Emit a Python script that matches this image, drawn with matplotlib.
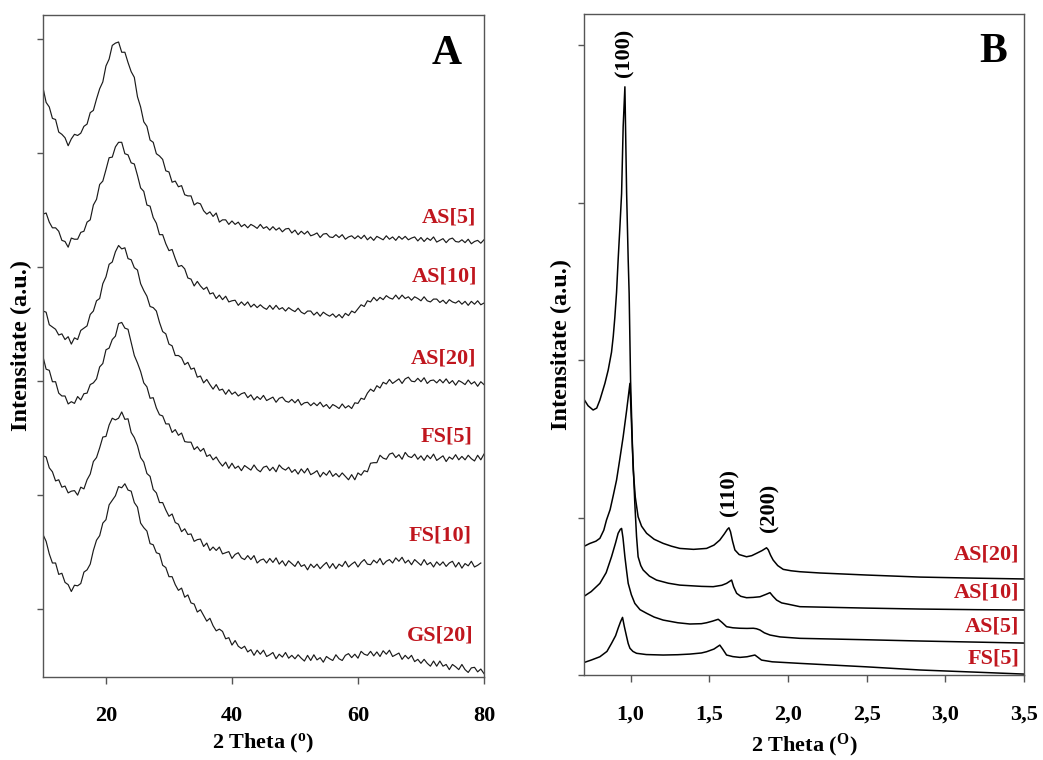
import matplotlib
matplotlib.use("Agg")
import matplotlib.pyplot as plt
import numpy as np

plt.rcParams['font.family'] = ['Liberation Serif', 'DejaVu Serif']
plt.rcParams['font.weight'] = 'bold'
plt.rcParams['mathtext.fontset'] = 'custom'
plt.rcParams['mathtext.rm'] = 'Liberation Serif:bold'
plt.rcParams['mathtext.it'] = 'Liberation Serif:bold'
plt.rcParams['mathtext.bf'] = 'Liberation Serif:bold'

# ---- panel A: wide-angle XRD, scan step 0.5 deg (10 .. 80) ----
as5_a = [
    5.17, 5.04, 5.00, 4.90, 4.89, 4.78, 4.76, 4.73, 4.66, 4.72,
    4.76, 4.75, 4.77, 4.83, 4.85, 4.95, 4.97, 5.07, 5.16, 5.22,
    5.36, 5.42, 5.54, 5.56, 5.57, 5.48, 5.48, 5.39, 5.31, 5.26,
    5.09, 5.00, 4.87, 4.83, 4.71, 4.69, 4.59, 4.57, 4.54, 4.44,
    4.43, 4.34, 4.35, 4.30, 4.31, 4.23, 4.22, 4.22, 4.14, 4.16,
    4.15, 4.09, 4.06, 4.08, 4.04, 4.07, 3.99, 4.01, 4.01, 3.97,
    4.00, 3.97, 3.99, 3.95, 3.97, 3.94, 3.97, 3.955, 3.935, 3.97,
    3.935, 3.95, 3.92, 3.95, 3.92, 3.94, 3.905, 3.93, 3.935, 3.895,
    3.92, 3.88, 3.91, 3.885, 3.91, 3.87, 3.88, 3.895, 3.855, 3.885,
    3.89, 3.86, 3.855, 3.88, 3.855, 3.88, 3.84, 3.86, 3.87, 3.845,
    3.87, 3.845, 3.875, 3.835, 3.86, 3.83, 3.865, 3.85, 3.835, 3.87,
    3.84, 3.86, 3.83, 3.865, 3.84, 3.865, 3.835, 3.85, 3.86, 3.825,
    3.855, 3.82, 3.85, 3.83, 3.86, 3.815, 3.83, 3.845, 3.81, 3.84,
    3.85, 3.82, 3.815, 3.835, 3.81, 3.84, 3.80, 3.82, 3.83, 3.805,
    3.835]
as10_a = [
    4.06, 4.07, 3.99, 3.94, 3.94, 3.91, 3.83, 3.82, 3.77, 3.85,
    3.84, 3.84, 3.90, 3.91, 3.99, 4.01, 4.14, 4.19, 4.32, 4.35,
    4.45, 4.555, 4.56, 4.65, 4.69, 4.69, 4.59, 4.58, 4.51, 4.50,
    4.40, 4.29, 4.26, 4.14, 4.13, 4.03, 3.98, 3.88, 3.88, 3.80,
    3.74, 3.75, 3.67, 3.60, 3.61, 3.58, 3.50, 3.49, 3.43, 3.47,
    3.43, 3.40, 3.42, 3.36, 3.37, 3.32, 3.35, 3.31, 3.34, 3.29,
    3.30, 3.305, 3.26, 3.29, 3.26, 3.29, 3.245, 3.27, 3.24, 3.265,
    3.24, 3.225, 3.26, 3.225, 3.26, 3.225, 3.24, 3.21, 3.24, 3.22,
    3.205, 3.235, 3.20, 3.185, 3.21, 3.21, 3.175, 3.20, 3.165, 3.20,
    3.18, 3.165, 3.185, 3.155, 3.18, 3.15, 3.19, 3.17, 3.21, 3.195,
    3.23, 3.265, 3.25, 3.30, 3.29, 3.33, 3.30, 3.33, 3.31, 3.345,
    3.325, 3.315, 3.35, 3.315, 3.35, 3.32, 3.335, 3.305, 3.335, 3.32,
    3.30, 3.335, 3.30, 3.29, 3.315, 3.315, 3.285, 3.305, 3.275, 3.31,
    3.29, 3.28, 3.30, 3.27, 3.295, 3.26, 3.295, 3.27, 3.30, 3.265,
    3.28]
as20_a = [
    3.21, 3.20, 3.09, 3.07, 3.05, 3.00, 3.01, 2.96, 2.985, 2.92,
    2.975, 2.96, 3.04, 3.06, 3.08, 3.18, 3.21, 3.30, 3.32, 3.45,
    3.51, 3.62, 3.64, 3.73, 3.785, 3.755, 3.765, 3.67, 3.66, 3.59,
    3.57, 3.45, 3.39, 3.34, 3.25, 3.24, 3.21, 3.11, 3.03, 3.01,
    2.92, 2.905, 2.82, 2.82, 2.80, 2.74, 2.76, 2.70, 2.71, 2.63,
    2.64, 2.58, 2.61, 2.565, 2.525, 2.565, 2.515, 2.525, 2.48, 2.52,
    2.48, 2.50, 2.465, 2.485, 2.495, 2.45, 2.475, 2.43, 2.46, 2.435,
    2.47, 2.425, 2.44, 2.455, 2.41, 2.445, 2.455, 2.42, 2.41, 2.435,
    2.405, 2.435, 2.385, 2.405, 2.41, 2.38, 2.405, 2.38, 2.41, 2.37,
    2.39, 2.355, 2.39, 2.375, 2.355, 2.395, 2.36, 2.38, 2.355, 2.405,
    2.40, 2.445, 2.435, 2.49, 2.525, 2.505, 2.555, 2.535, 2.585, 2.57,
    2.61, 2.575, 2.595, 2.615, 2.575, 2.615, 2.63, 2.595, 2.59, 2.62,
    2.59, 2.625, 2.575, 2.60, 2.605, 2.58, 2.61, 2.58, 2.615, 2.575,
    2.60, 2.56, 2.60, 2.585, 2.565, 2.605, 2.57, 2.59, 2.55, 2.59,
    2.565]
fs5_a = [
    2.81, 2.70, 2.69, 2.59, 2.59, 2.49, 2.465, 2.465, 2.395, 2.415,
    2.40, 2.46, 2.43, 2.485, 2.49, 2.565, 2.58, 2.615, 2.72, 2.75,
    2.87, 2.885, 2.96, 2.99, 3.10, 3.11, 3.06, 3.05, 2.935, 2.82,
    2.755, 2.68, 2.58, 2.545, 2.445, 2.45, 2.36, 2.30, 2.29, 2.22,
    2.22, 2.145, 2.17, 2.12, 2.14, 2.065, 2.06, 2.06, 1.995, 2.02,
    1.98, 2.005, 1.935, 1.95, 1.905, 1.93, 1.885, 1.85, 1.885, 1.83,
    1.875, 1.83, 1.85, 1.81, 1.855, 1.835, 1.815, 1.86, 1.82, 1.80,
    1.84, 1.85, 1.81, 1.84, 1.80, 1.86, 1.83, 1.815, 1.84, 1.795,
    1.82, 1.78, 1.825, 1.79, 1.83, 1.775, 1.79, 1.81, 1.755, 1.795,
    1.77, 1.81, 1.76, 1.785, 1.755, 1.79, 1.76, 1.73, 1.775, 1.73,
    1.79, 1.77, 1.81, 1.80, 1.875, 1.88, 1.88, 1.945, 1.92, 1.91,
    1.955, 1.965, 1.925, 1.95, 1.91, 1.97, 1.935, 1.925, 1.955, 1.91,
    1.94, 1.90, 1.945, 1.915, 1.955, 1.90, 1.92, 1.94, 1.89, 1.93,
    1.91, 1.95, 1.905, 1.935, 1.905, 1.945, 1.915, 1.895, 1.945, 1.905,
    1.955]
# FS[10] scan stops at 79.5
fs10_a = [
    1.94, 1.93, 1.835, 1.80, 1.72, 1.73, 1.665, 1.675, 1.615, 1.63,
    1.635, 1.595, 1.665, 1.65, 1.73, 1.78, 1.89, 1.925, 2.01, 2.105,
    2.11, 2.21, 2.27, 2.255, 2.27, 2.325, 2.26, 2.265, 2.145, 2.10,
    2.03, 1.925, 1.885, 1.785, 1.76, 1.645, 1.615, 1.53, 1.53, 1.465,
    1.41, 1.43, 1.355, 1.34, 1.275, 1.30, 1.25, 1.255, 1.19, 1.205,
    1.21, 1.145, 1.175, 1.11, 1.14, 1.11, 1.14, 1.08, 1.09, 1.10,
    1.04, 1.075, 1.09, 1.045, 1.03, 1.065, 1.03, 1.065, 1.00, 1.025,
    1.035, 1.00, 1.04, 1.005, 1.045, 0.99, 1.02, 0.975, 1.02, 0.995,
    0.97, 1.015, 0.97, 0.985, 0.94, 0.99, 0.96, 0.99, 0.95, 0.98,
    1.005, 0.955, 0.995, 0.95, 0.99, 0.97, 1.015, 0.965, 0.99, 1.01,
    0.965, 1.005, 1.03, 0.99, 0.985, 1.025, 1.00, 1.04, 0.985, 1.015,
    1.03, 1.00, 1.045, 1.015, 1.05, 1.00, 1.025, 0.985, 1.03, 1.005,
    0.98, 1.03, 0.985, 1.005, 0.965, 1.01, 0.98, 1.01, 0.97, 1.00,
    1.015, 0.965, 1.005, 0.955, 0.995, 0.975, 1.015, 0.965, 0.98, 1.00]
gs20_a = [
    1.25, 1.19, 1.08, 1.00, 1.00, 0.90, 0.91, 0.83, 0.81, 0.75,
    0.805, 0.80, 0.82, 0.92, 0.94, 0.99, 1.11, 1.20, 1.24, 1.35,
    1.38, 1.51, 1.55, 1.59, 1.67, 1.66, 1.695, 1.64, 1.63, 1.53,
    1.49, 1.35, 1.31, 1.28, 1.17, 1.16, 1.09, 1.08, 0.98, 0.96,
    0.88, 0.88, 0.81, 0.76, 0.78, 0.70, 0.72, 0.65, 0.64, 0.57,
    0.59, 0.54, 0.49, 0.515, 0.45, 0.405, 0.42, 0.40, 0.335, 0.345,
    0.28, 0.32, 0.27, 0.25, 0.27, 0.22, 0.24, 0.19, 0.235, 0.20,
    0.235, 0.18, 0.195, 0.215, 0.16, 0.20, 0.175, 0.215, 0.165, 0.19,
    0.16, 0.195, 0.165, 0.14, 0.19, 0.145, 0.195, 0.15, 0.17, 0.13,
    0.18, 0.16, 0.145, 0.195, 0.16, 0.145, 0.19, 0.205, 0.17, 0.20,
    0.165, 0.225, 0.20, 0.19, 0.225, 0.185, 0.22, 0.18, 0.23, 0.20,
    0.235, 0.18, 0.195, 0.21, 0.155, 0.19, 0.16, 0.19, 0.135, 0.155,
    0.12, 0.155, 0.12, 0.095, 0.14, 0.095, 0.14, 0.095, 0.11, 0.065,
    0.11, 0.09, 0.065, 0.11, 0.065, 0.04, 0.08, 0.085, 0.045, 0.07,
    0.03]

series_a = [as5_a, as10_a, as20_a, fs5_a, fs10_a, gs20_a]
labels_a = ["AS[5]", "AS[10]", "AS[20]", "FS[5]", "FS[10]", "GS[20]"]
label_pos_a = [(78.7, 4.03), (78.9, 3.51), (78.8, 2.79), (78.2, 2.11), (78.0, 1.24), (78.4, 0.36)]

# ---- panel B: low-angle XRD ----
as20_bx = [0.70, 0.74, 0.78, 0.805, 0.83, 0.847, 0.87, 0.89, 0.911, 0.93, 0.953, 0.975, 0.996,
           1.005, 1.017, 1.03, 1.048, 1.07, 1.102, 1.15, 1.207, 1.26, 1.313, 1.40, 1.483, 1.53,
           1.567, 1.595, 1.615, 1.625, 1.635, 1.648, 1.663, 1.69, 1.737, 1.77, 1.801, 1.835,
           1.864, 1.875, 1.89, 1.906, 1.935, 1.970, 2.02, 2.076, 2.203, 2.50, 2.839, 3.20, 3.50]
as20_by = [0.815, 0.835, 0.850, 0.868, 0.92, 0.984, 1.05, 1.14, 1.238, 1.36, 1.513, 1.68, 1.852,
           1.62, 1.302, 1.13, 1.005, 0.945, 0.900, 0.862, 0.836, 0.818, 0.804, 0.798, 0.804, 0.825,
           0.857, 0.895, 0.925, 0.935, 0.91, 0.85, 0.794, 0.765, 0.751, 0.758, 0.773, 0.79,
           0.808, 0.795, 0.76, 0.730, 0.695, 0.671, 0.662, 0.656, 0.648, 0.635, 0.622, 0.615, 0.610]
as10_bx = [0.70, 0.73, 0.762, 0.785, 0.805, 0.837, 0.858, 0.879, 0.890, 0.900, 0.911, 0.921,
           0.932, 0.943, 0.953, 0.964, 0.975, 0.985, 0.991, 1.000, 1.012, 1.027, 1.038, 1.048,
           1.065, 1.080, 1.12, 1.165, 1.24, 1.313, 1.45, 1.525, 1.580, 1.610, 1.630, 1.642,
           1.655, 1.674, 1.70, 1.737, 1.78, 1.822, 1.86, 1.886, 1.905, 1.928, 1.96, 2.00, 2.076,
           2.50, 2.839, 3.20, 3.50]
as10_by = [1.757, 1.71, 1.683, 1.695, 1.746, 1.852, 1.937, 2.05, 2.15, 2.27, 2.43, 2.635,
           2.84, 3.058, 3.481, 3.735, 3.058, 2.635, 2.423, 1.873, 1.45, 1.090, 0.88, 0.751,
           0.695, 0.667, 0.628, 0.603, 0.583, 0.571, 0.563, 0.561, 0.570, 0.582, 0.595, 0.603,
           0.56, 0.519, 0.500, 0.491, 0.493, 0.497, 0.512, 0.523, 0.50, 0.476, 0.458, 0.45, 0.434,
           0.425, 0.419, 0.415, 0.413]
as5_bx = [0.70, 0.75, 0.805, 0.845, 0.879, 0.905, 0.921, 0.935, 0.943, 0.952, 0.964, 0.975,
          0.985, 1.005, 1.027, 1.06, 1.102, 1.15, 1.207, 1.30, 1.377, 1.45, 1.483, 1.52, 1.557,
          1.58, 1.610, 1.65, 1.695, 1.740, 1.780, 1.80, 1.822, 1.85, 1.886, 1.95, 2.076, 2.50,
          2.839, 3.20, 3.50]
as5_by = [0.497, 0.53, 0.582, 0.65, 0.751, 0.84, 0.900, 0.925, 0.931, 0.87, 0.751, 0.66,
          0.582, 0.51, 0.455, 0.415, 0.392, 0.368, 0.349, 0.332, 0.324, 0.326, 0.332, 0.342, 0.354,
          0.335, 0.307, 0.300, 0.297, 0.296, 0.297, 0.294, 0.286, 0.268, 0.254, 0.242, 0.233, 0.224,
          0.216, 0.209, 0.203]
fs5_bx = [0.70, 0.75, 0.805, 0.85, 0.879, 0.905, 0.921, 0.937, 0.949, 0.960, 0.975, 0.985,
          0.996, 1.015, 1.038, 1.10, 1.207, 1.30, 1.377, 1.45, 1.483, 1.53, 1.567, 1.585, 1.610,
          1.65, 1.695, 1.74, 1.790, 1.81, 1.832, 1.90, 2.076, 2.50, 2.839, 3.20, 3.50]
fs5_by = [0.078, 0.095, 0.116, 0.15, 0.201, 0.25, 0.297, 0.34, 0.366, 0.31, 0.243, 0.20,
          0.170, 0.150, 0.138, 0.130, 0.127, 0.129, 0.133, 0.140, 0.148, 0.165, 0.190, 0.165, 0.127,
          0.117, 0.112, 0.116, 0.127, 0.112, 0.095, 0.084, 0.074, 0.052, 0.032, 0.018, 0.006]

series_b = [(as20_bx, as20_by), (as10_bx, as10_by), (as5_bx, as5_by), (fs5_bx, fs5_by)]
labels_b = ["AS[20]", "AS[10]", "AS[5]", "FS[5]"]
label_pos_b = [(3.47, 0.768), (3.47, 0.521), (3.47, 0.311), (3.47, 0.102)]
peaks_b = ["(100)", "(110)", "(200)"]
peak_pos_b = [(0.964, 3.95), (1.631, 1.16), (1.885, 1.06)]
xticks_b = [1.0, 1.5, 2.0, 2.5, 3.0, 3.5]
xticklabels_b = ["1,0", "1,5", "2,0", "2,5", "3,0", "3,5"]

red = "#c0161e"
spine_col = "#555555"

fig = plt.figure(figsize=(10.43, 7.60), dpi=100)
axA = fig.add_axes([0.0412, 0.1092, 0.4228, 0.8711])
axB = fig.add_axes([0.5599, 0.1118, 0.4219, 0.8697])

# panel A
for ys in series_a:
    xs = np.arange(len(ys)) * 0.5 + 10
    axA.plot(xs, ys, color="#1a1a1a", lw=0.85)
for lab, (lx, ly) in zip(labels_a, label_pos_a):
    axA.text(lx, ly, lab, color=red, fontsize=16, fontweight='bold', ha='right', va='center')
axA.set_xlim(10, 80)
axA.set_ylim(0, 5.807)
axA.set_xticks([20, 40, 60, 80])
axA.set_yticks([0.596, 1.596, 2.596, 3.596, 4.596, 5.596])
axA.set_yticklabels([])
axA.text(0.916, 0.941, "A", transform=axA.transAxes, fontsize=30, fontweight='bold',
         ha='center', va='center')
axA.set_xlabel(r"2 Theta ($^{\mathrm{o}}$)", fontsize=16, fontweight='bold')
axA.set_ylabel("Intensitate (a.u.)", fontsize=17.5, fontweight='bold')
axA.xaxis.set_label_coords(0.5, -0.083)
axA.yaxis.set_label_coords(-0.025, 0.5)

# panel B
for (xs, ys) in series_b:
    axB.plot(xs, ys, color="black", lw=1.1)
for lab, (lx, ly) in zip(labels_b, label_pos_b):
    axB.text(lx, ly, lab, color=red, fontsize=16, fontweight='bold', ha='right', va='center')
for lab, (px, py) in zip(peaks_b, peak_pos_b):
    axB.text(px, py, lab, fontsize=16, fontweight='bold', rotation=90, ha='center', va='center')
axB.set_xlim(0.704, 3.5)
axB.set_ylim(0, 4.197)
axB.set_xticks(xticks_b)
axB.set_xticklabels(xticklabels_b)
axB.set_yticks([0, 1, 2, 3, 4])
axB.set_yticklabels([])
axB.text(0.93, 0.943, "B", transform=axB.transAxes, fontsize=30, fontweight='bold',
         ha='center', va='center')
axB.set_xlabel(r"2 Theta ($^{\mathrm{O}}$)", fontsize=16, fontweight='bold')
axB.set_ylabel("Intensitate (a.u.)", fontsize=17.5, fontweight='bold')
axB.xaxis.set_label_coords(0.5, -0.086)
axB.yaxis.set_label_coords(-0.027, 0.5)

for ax in (axA, axB):
    for sp in ax.spines.values():
        sp.set_color(spine_col)
        sp.set_linewidth(1.0)
    ax.tick_params(direction='out', length=5, width=1, color=spine_col,
                   labelsize=16, pad=16)
    ax.tick_params(axis='y', length=4, pad=2)
    for t in ax.get_xticklabels():
        t.set_fontweight('bold')

fig.savefig("out.png", dpi=100)
